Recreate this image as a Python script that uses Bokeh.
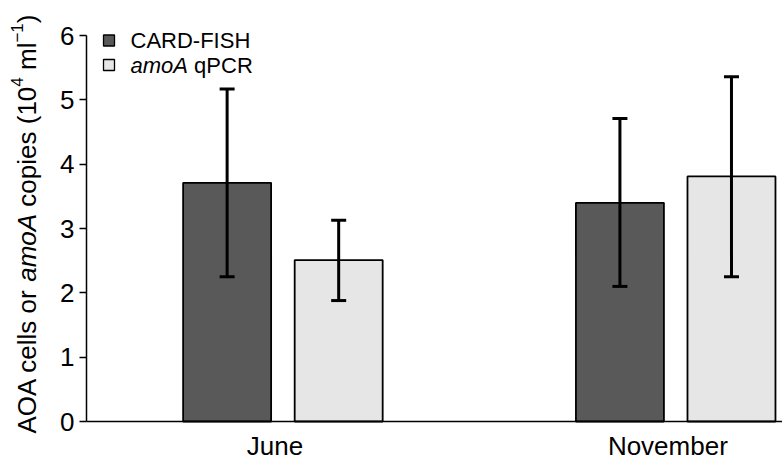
from bokeh.plotting import figure
from bokeh.models import (ColumnDataSource, Whisker, TeeHead, Label, BoxAnnotation,
                          FixedTicker, Range1d)
from bokeh.embed import file_html
from bokeh.resources import INLINE

# ---- data ----
months = ["June", "November"]
month_pos = [1, 2]
card_fish = [3.71, 3.40]
card_fish_lo = [2.25, 2.10]
card_fish_hi = [5.17, 4.71]
amoa = [2.51, 3.81]
amoa_lo = [1.88, 2.25]
amoa_hi = [3.13, 5.36]
y_ticks = [0, 1, 2, 3, 4, 5, 6]

DARK = "#595959"
LIGHT = "#e6e6e6"
FONT = "Liberation Sans"

W, H = 782, 463
# the frame fills the whole canvas; the axes sit at fixed data locations
AX_X_PAGE, AX_Y_PAGE = 86, 421      # page position of the axes' corner
XPX, YPX = 392.8, 64.33             # px per data unit
X0 = 0.5 - AX_X_PAGE / XPX
X1 = 0.5 + (W - AX_X_PAGE) / XPX
Y1 = AX_Y_PAGE / YPX
Y0 = -(H - AX_Y_PAGE) / YPX

WIDTHS = {"A": 667, "O": 778, " ": 278, "c": 500, "e": 556, "l": 222, "s": 500,
          "o": 556, "r": 333, "a": 556, "m": 833, "p": 556, "i": 222, "(": 333,
          ")": 333, "1": 556, "0": 556, "4": 556, "\u2212": 584, "C": 722,
          "R": 722, "D": 722, "-": 333, "F": 611, "I": 278, "S": 667, "H": 722,
          "q": 556, "P": 667}

def text_w(s, size):
    return sum(WIDTHS.get(ch, 556) for ch in s) * size / 1000.0

# screen coords relative to the frame's bottom-left corner (= canvas)
def sx(px_page):
    return px_page

def sy(py_page):
    return H - py_page

p = figure(width=W, height=H, x_range=Range1d(X0, X1), y_range=Range1d(Y0, Y1),
           output_backend="svg", toolbar_location=None,
           min_border_left=0, min_border_right=0, min_border_top=0, min_border_bottom=0)
p.outline_line_color = None
p.xgrid.visible = False
p.ygrid.visible = False

off = 0.142
bw = 0.224
src1 = ColumnDataSource(dict(x=[m - off for m in month_pos], top=card_fish,
                             lo=card_fish_lo, hi=card_fish_hi))
src2 = ColumnDataSource(dict(x=[m + off for m in month_pos], top=amoa,
                             lo=amoa_lo, hi=amoa_hi))

p.vbar(x="x", top="top", bottom=0, width=bw, source=src1, fill_color=DARK,
       line_color="black", line_width=1.8)
p.vbar(x="x", top="top", bottom=0, width=bw, source=src2, fill_color=LIGHT,
       line_color="black", line_width=1.8)

for src in (src1, src2):
    w = Whisker(base="x", lower="lo", upper="hi", source=src, line_width=3,
                line_color="black", level="overlay",
                upper_head=TeeHead(size=15, line_width=3, line_color="black"),
                lower_head=TeeHead(size=15, line_width=3, line_color="black"))
    p.add_layout(w)

# axes
label_shift = -0.02
tick_vals = [m + label_shift for m in month_pos]
p.xaxis.fixed_location = 0
p.xaxis.bounds = (0.5, X1)
p.xaxis.ticker = FixedTicker(ticks=tick_vals)
p.xaxis.major_label_overrides = {t: n for t, n in zip(tick_vals, months)}
p.xaxis.major_tick_line_color = None
p.xaxis.minor_tick_line_color = None
p.xaxis.axis_line_width = 1.5
p.xaxis.major_label_text_font = FONT
p.xaxis.major_label_text_font_size = "26px"
p.xaxis.major_label_text_color = "black"
p.xaxis.major_label_standoff = 3

p.yaxis.fixed_location = 0.5
p.yaxis.ticker = FixedTicker(ticks=y_ticks)
p.yaxis.bounds = (0, 6)
p.yaxis.minor_tick_line_color = None
p.yaxis.axis_line_width = 1.5
p.yaxis.major_tick_line_width = 1.5
p.yaxis.major_tick_out = 7
p.yaxis.major_tick_in = 0
p.yaxis.major_label_text_font = FONT
p.yaxis.major_label_text_font_size = "26px"
p.yaxis.major_label_text_color = "black"
p.yaxis.major_label_standoff = 5

# ---- legend ----
LFS = 22
legend_rows = [(DARK, [("CARD-FISH", "normal")], 40),
               (LIGHT, [("amoA", "italic"), ("qPCR", "normal")], 64.5)]
for color, parts, cy in legend_rows:
    p.add_layout(BoxAnnotation(left=sx(103), right=sx(114), top=sy(cy - 5.5),
                               bottom=sy(cy + 5.5), left_units="screen",
                               right_units="screen", top_units="screen",
                               bottom_units="screen", fill_color=color, fill_alpha=1,
                               line_color="black", line_width=1.3, line_alpha=1))
    cx = 130
    for i, (txt, style) in enumerate(parts):
        if i > 0:
            cx += text_w(" ", LFS)
        p.add_layout(Label(x=sx(cx), y=sy(cy), x_units="screen", y_units="screen",
                           text=txt, text_align="left",
                           text_baseline="middle", text_font=FONT,
                           text_font_style=style, text_font_size=f"{LFS}px",
                           text_color="black"))
        cx += text_w(txt, LFS)

# ---- y axis title (mixed italic and superscripts) ----
# (text, style, superscript, space before)
title_parts = [("AOA cells or", "normal", False, False),
               ("amoA", "italic", False, True),
               ("copies (10", "normal", False, True),
               ("4", "normal", True, False),
               ("ml", "normal", False, True),
               ("\u22121", "normal", True, False),
               (")", "normal", False, False)]
FS = 26
SUP = 17
base_x = 26      # baseline x on the page
start_y = 433    # text start (page y)
cum = 0.0
for txt, style, sup, space in title_parts:
    if space:
        cum += text_w(" ", FS)
    size = SUP if sup else FS
    shift = 10 if sup else 0
    p.add_layout(Label(x=sx(base_x - shift), y=sy(start_y) + cum,
                       x_units="screen", y_units="screen", text=txt,
                       angle=1.5707963, text_align="left", text_baseline="alphabetic",
                       text_font=FONT, text_font_style=style,
                       text_font_size=f"{size}px", text_color="black"))
    cum += text_w(txt, size)

open("out.html", "w").write(file_html(p, INLINE))
